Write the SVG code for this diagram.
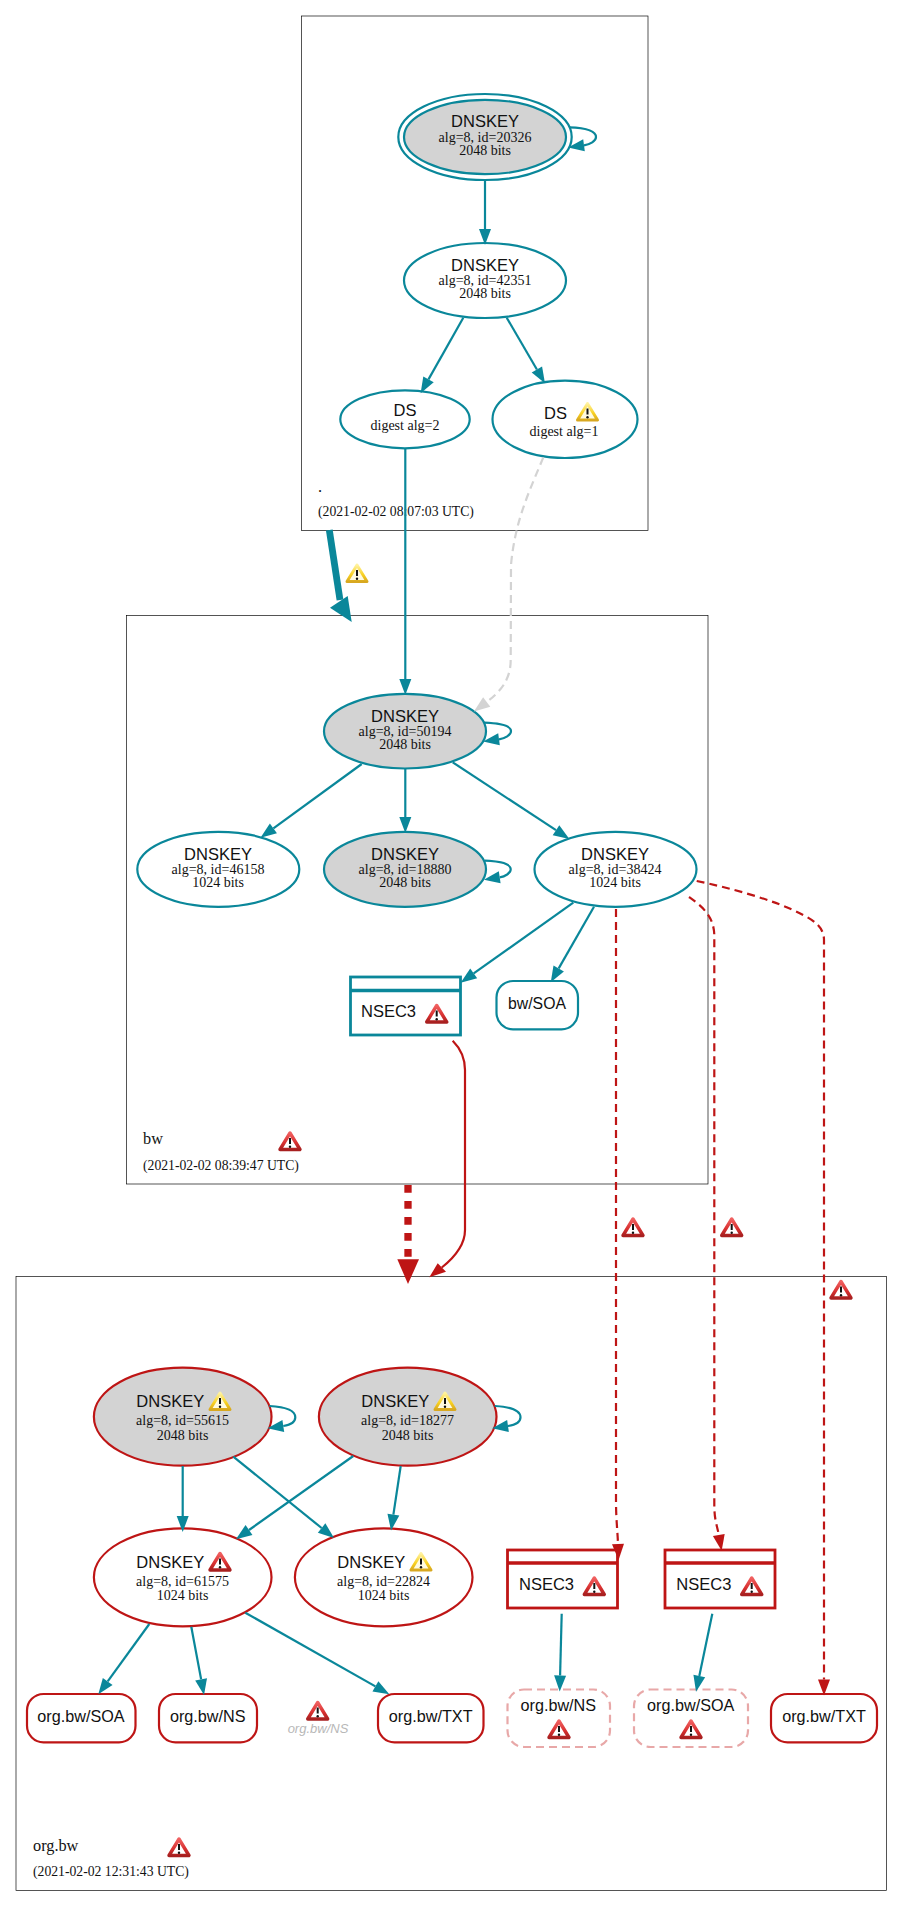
<svg xmlns="http://www.w3.org/2000/svg" width="903" height="1906" viewBox="0 0 903 1906">
<style>
  .zone { fill: #fff; stroke: #000; stroke-width: .67; }
  .ok { stroke: #0a879a; stroke-width: 2.2; fill: #fff; }
  .bad { stroke: #be1515; stroke-width: 2.2; fill: #fff; }
  .box { stroke-width: 2.8; }
  .sep { stroke-width: 3.6; fill: #fff; }
  .ghost { stroke: #e8a8a8; stroke-width: 2.2; stroke-dasharray: 8 5; fill: #fff; }
  .edge { fill: none; stroke: #0a879a; stroke-width: 2.2; marker-end: url(#tip-ok); }
  .edge.red { stroke: #be1515; marker-end: url(#tip-bad); }
  .dash { stroke-dasharray: 8 5; }
  .faint { stroke: #d3d3d3; marker-end: url(#tip-faint); }
  text { fill: #111; }
  .h { font: 16.5px "Liberation Sans", Arial, sans-serif; }
  .s { font: 14px "Liberation Serif", "Times New Roman", serif; }
  .d { font: 13.7px "Liberation Serif", "Times New Roman", serif; }
  .z { font: 16.3px "Liberation Serif", "Times New Roman", serif; }
  .m { text-anchor: middle; }
  .absent { font: italic 13px "Liberation Sans", Arial, sans-serif; fill: #b8b8b8; text-anchor: middle; }
</style>
<defs>
  <marker id="tip-ok" markerUnits="userSpaceOnUse" markerWidth="19" markerHeight="14" refX="1" refY="7" orient="auto"><polygon points="1,1 17,7 1,13" fill="#0a879a"/></marker>
  <marker id="tip-bad" markerUnits="userSpaceOnUse" markerWidth="19" markerHeight="14" refX="1" refY="7" orient="auto"><polygon points="1,1 17,7 1,13" fill="#be1515"/></marker>
  <marker id="tip-faint" markerUnits="userSpaceOnUse" markerWidth="19" markerHeight="14" refX="1" refY="7" orient="auto"><polygon points="1,1 17,7 1,13" fill="#d3d3d3"/></marker>
  <linearGradient id="edge-y" x1="0" y1="0" x2="0" y2="1"><stop offset="0" stop-color="#fff2a0"/><stop offset=".6" stop-color="#f8d020"/><stop offset="1" stop-color="#d8a820"/></linearGradient>
  <linearGradient id="edge-r" x1="0" y1="0" x2="0" y2="1"><stop offset="0" stop-color="#f06060"/><stop offset=".6" stop-color="#d83030"/><stop offset="1" stop-color="#a82020"/></linearGradient>
  <symbol id="warn-y" viewBox="0 0 24 21" overflow="visible">
    <polygon points="12,2.5 22,19 2,19" fill="#fffbe0" stroke="url(#edge-y)" stroke-width="3" stroke-linejoin="round"/>
    <line x1="12" y1="7.5" x2="12" y2="13.5" stroke="#111" stroke-width="2"/><circle cx="12" cy="16.2" r="1.2" fill="#111"/>
  </symbol>
  <symbol id="warn-r" viewBox="0 0 24 21" overflow="visible">
    <polygon points="12,2.5 22,19 2,19" fill="#fff" stroke="url(#edge-r)" stroke-width="3.4" stroke-linejoin="round"/>
    <line x1="12" y1="7.5" x2="12" y2="13.5" stroke="#111" stroke-width="2"/><circle cx="12" cy="16.2" r="1.2" fill="#111"/>
  </symbol>
</defs>
<rect width="903" height="1906" fill="#fff"/>

<!-- zones -->
<g id="zone-root">
  <rect class="zone" x="301.5" y="16" width="346.5" height="514.5"/>
  <text class="z" x="318" y="491.5">.</text>
  <text class="d" x="318" y="516">(2021-02-02 08:07:03 UTC)</text>
</g>
<g id="zone-bw">
  <rect class="zone" x="126.5" y="615.5" width="581.5" height="568.5"/>
  <text class="z" x="143" y="1144">bw</text>
  <text class="d" x="143" y="1170">(2021-02-02 08:39:47 UTC)</text>
  <use href="#warn-r" x="278" y="1130.5" width="24" height="21"/>
</g>
<g id="zone-org-bw">
  <rect class="zone" x="16" y="1276.5" width="870.5" height="614"/>
  <text class="z" x="33" y="1850.5">org.bw</text>
  <text class="d" x="33" y="1876">(2021-02-02 12:31:43 UTC)</text>
  <use href="#warn-r" x="167" y="1836.5" width="24" height="21"/>
</g>

<!-- root zone nodes -->
<g id="key-20326">
  <ellipse class="ok" cx="485" cy="137" rx="86.7" ry="43"/>
  <ellipse class="ok" cx="485" cy="137" rx="81" ry="37.2" style="fill:#d3d3d3"/>
  <text class="h m" x="485" y="127">DNSKEY</text>
  <text class="s m" x="485" y="141.5">alg=8, id=20326</text>
  <text class="s m" x="485" y="155">2048 bits</text>
</g>
<g id="key-42351">
  <ellipse class="ok" cx="485" cy="280.5" rx="81" ry="37.5"/>
  <text class="h m" x="485" y="271">DNSKEY</text>
  <text class="s m" x="485" y="285">alg=8, id=42351</text>
  <text class="s m" x="485" y="298">2048 bits</text>
</g>
<g id="ds-2">
  <ellipse class="ok" cx="405" cy="419.3" rx="64.7" ry="29"/>
  <text class="h m" x="405" y="416">DS</text>
  <text class="s m" x="405" y="429.5">digest alg=2</text>
</g>
<g id="ds-1">
  <ellipse class="ok" cx="565" cy="419.3" rx="72.5" ry="38.7"/>
  <text class="h" x="544" y="418.5">DS</text>
  <use href="#warn-y" x="575.5" y="401" width="24" height="21"/>
  <text class="s m" x="564" y="436">digest alg=1</text>
</g>

<!-- bw zone nodes -->
<g id="key-50194">
  <ellipse class="ok" cx="405" cy="731.2" rx="81" ry="37.3" style="fill:#d3d3d3"/>
  <text class="h m" x="405" y="722">DNSKEY</text>
  <text class="s m" x="405" y="735.5">alg=8, id=50194</text>
  <text class="s m" x="405" y="749">2048 bits</text>
</g>
<g id="key-46158">
  <ellipse class="ok" cx="218.3" cy="869.3" rx="81" ry="37.5"/>
  <text class="h m" x="218" y="860">DNSKEY</text>
  <text class="s m" x="218" y="874">alg=8, id=46158</text>
  <text class="s m" x="218" y="887">1024 bits</text>
</g>
<g id="key-18880">
  <ellipse class="ok" cx="405" cy="869.3" rx="81" ry="37.5" style="fill:#d3d3d3"/>
  <text class="h m" x="405" y="860">DNSKEY</text>
  <text class="s m" x="405" y="874">alg=8, id=18880</text>
  <text class="s m" x="405" y="887">2048 bits</text>
</g>
<g id="key-38424">
  <ellipse class="ok" cx="615.5" cy="869.3" rx="81" ry="37.5"/>
  <text class="h m" x="615" y="860">DNSKEY</text>
  <text class="s m" x="615" y="874">alg=8, id=38424</text>
  <text class="s m" x="615" y="887">1024 bits</text>
</g>
<g id="nsec3-bw">
  <rect class="ok box" x="350.5" y="977" width="110" height="58"/>
  <line class="ok sep" x1="350" y1="990.5" x2="461" y2="990.5"/>
  <text class="h" x="361" y="1016.5">NSEC3</text>
  <use href="#warn-r" x="424.7" y="1003" width="24" height="21"/>
</g>
<g id="bw-soa">
  <rect class="ok" x="496.5" y="981" width="81.5" height="48.3" rx="16.5"/>
  <text class="h m" x="537" y="1009" style="font-size:15.8px">bw/SOA</text>
</g>

<!-- org.bw zone nodes -->
<g id="key-55615">
  <ellipse class="bad" cx="182.7" cy="1416.7" rx="88.8" ry="49" style="fill:#d3d3d3"/>
  <text class="h" x="136.3" y="1407.3">DNSKEY</text>
  <use href="#warn-y" x="208" y="1390.5" width="24" height="21"/>
  <text class="s m" x="182.5" y="1425">alg=8, id=55615</text>
  <text class="s m" x="182.5" y="1440">2048 bits</text>
</g>
<g id="key-18277">
  <ellipse class="bad" cx="407.7" cy="1416.7" rx="88.8" ry="49" style="fill:#d3d3d3"/>
  <text class="h" x="361.3" y="1407.3">DNSKEY</text>
  <use href="#warn-y" x="433" y="1390.5" width="24" height="21"/>
  <text class="s m" x="407.5" y="1425">alg=8, id=18277</text>
  <text class="s m" x="407.5" y="1440">2048 bits</text>
</g>
<g id="key-61575">
  <ellipse class="bad" cx="182.7" cy="1577.3" rx="88.8" ry="49"/>
  <text class="h" x="136.3" y="1568.3">DNSKEY</text>
  <use href="#warn-r" x="208" y="1551" width="24" height="21"/>
  <text class="s m" x="182.5" y="1586">alg=8, id=61575</text>
  <text class="s m" x="182.5" y="1600">1024 bits</text>
</g>
<g id="key-22824">
  <ellipse class="bad" cx="383.7" cy="1577.3" rx="88.8" ry="49"/>
  <text class="h" x="337.3" y="1568.3">DNSKEY</text>
  <use href="#warn-y" x="409" y="1551" width="24" height="21"/>
  <text class="s m" x="383.5" y="1586">alg=8, id=22824</text>
  <text class="s m" x="383.5" y="1600">1024 bits</text>
</g>
<g id="nsec3-ns">
  <rect class="bad box" x="507.5" y="1550" width="110" height="58"/>
  <line class="bad sep" x1="507" y1="1563" x2="618" y2="1563"/>
  <text class="h" x="519" y="1590">NSEC3</text>
  <use href="#warn-r" x="582.3" y="1575.5" width="24" height="21"/>
</g>
<g id="nsec3-soa">
  <rect class="bad box" x="665" y="1550" width="110" height="58"/>
  <line class="bad sep" x1="664.5" y1="1563" x2="775.5" y2="1563"/>
  <text class="h" x="676.3" y="1590">NSEC3</text>
  <use href="#warn-r" x="739.7" y="1575.5" width="24" height="21"/>
</g>
<g id="rr-soa">
  <rect class="bad" x="27" y="1694" width="108.5" height="48.3" rx="16.5"/>
  <text class="h m" x="81" y="1721.7" style="font-size:16.2px">org.bw/SOA</text>
</g>
<g id="rr-ns">
  <rect class="bad" x="159" y="1694" width="98" height="48.3" rx="16.5"/>
  <text class="h m" x="207.7" y="1721.7" style="font-size:16.2px">org.bw/NS</text>
</g>
<g id="rr-ns-absent">
  <use href="#warn-r" x="305.7" y="1700" width="24" height="21"/>
  <text class="absent" x="318" y="1733">org.bw/NS</text>
</g>
<g id="rr-txt">
  <rect class="bad" x="378" y="1694" width="105.5" height="48.3" rx="16.5"/>
  <text class="h m" x="430.7" y="1721.7" style="font-size:16.2px">org.bw/TXT</text>
</g>
<g id="nsec-ns-target">
  <rect class="ghost" x="507.5" y="1689.5" width="102.5" height="57.5" rx="16.5"/>
  <text class="h m" x="558.3" y="1710.7" style="font-size:16.2px">org.bw/NS</text>
  <use href="#warn-r" x="547" y="1718.5" width="24" height="21"/>
</g>
<g id="nsec-soa-target">
  <rect class="ghost" x="634" y="1689.5" width="114" height="57.5" rx="16.5"/>
  <text class="h m" x="690.7" y="1710.7" style="font-size:16.2px">org.bw/SOA</text>
  <use href="#warn-r" x="679" y="1718.5" width="24" height="21"/>
</g>
<g id="txt-target">
  <rect class="bad" x="771" y="1694" width="106" height="48.3" rx="16.5"/>
  <text class="h m" x="824" y="1721.7" style="font-size:16.2px">org.bw/TXT</text>
</g>

<!-- connectors -->
<g id="connectors">
  <path class="edge" d="M569.3,127.3C590,128 596,132 596,137C596,141 590,144.5 584,145.3"/>
  <path class="edge" d="M485,180V229"/>
  <path class="edge" d="M463.3,317.7L428.5,379.4"/>
  <path class="edge" d="M506.7,317.7L536.9,369.5"/>
  <path class="edge" d="M405.3,448.3V679"/>
  <path class="edge dash faint" d="M543.3,457.3C530,490 515,520 511,565L510.7,660C510.7,680 500,692 486.7,702"/>
  <line x1="329.3" y1="530" x2="340" y2="600" stroke="#0a879a" stroke-width="6.8"/>
  <polygon points="330,607.7 347.7,596 351.7,622" fill="#0a879a"/>

  <path class="edge" d="M484,722.7C505,723.5 511,727 511,731C511,735 505,738.5 499,739.3"/>
  <path class="edge" d="M361.7,764L273.4,828.4"/>
  <path class="edge" d="M405.3,768.5V817"/>
  <path class="edge" d="M452.7,762.3L556,830.2"/>
  <path class="edge" d="M484.7,860.7C505,861.5 510.7,865 510.7,869.3C510.7,873.3 505,876.5 499.7,877.3"/>
  <path class="edge" d="M573.3,902.7L473.7,973.4"/>
  <path class="edge" d="M594,906.7L558.7,968.4"/>

  <line x1="408" y1="1185" x2="408" y2="1258" stroke="#be1515" stroke-width="7.3" stroke-dasharray="7.7 8.3"/>
  <polygon points="397.3,1259.3 419,1259.3 408,1284" fill="#be1515"/>
  <path d="M452.7,1040.7C460,1048 465,1058 465,1070L465,1230C465,1245 455,1257 441.8,1267.5" fill="none" stroke="#be1515" stroke-width="2.2"/>
  <polygon points="437.7,1263.3 446,1271.7 429.3,1277.3" fill="#be1515"/>

  <path class="edge red dash" d="M616,909V1500C616,1520 617.5,1530 618,1544"/>
  <path class="edge red dash" d="M689,897C700,905 714.3,915 714.3,936V1505C714.3,1520 717,1525 718.8,1535"/>
  <path class="edge red dash" d="M696.7,881C730,888 775,900 803.3,915C815,921 824,928 824,940V1679.5"/>

  <path class="edge" d="M269.3,1406C288,1407 295.3,1411 295.3,1417.3C295.3,1422 290,1425 283.3,1426"/>
  <path class="edge" d="M494.7,1406C513,1407 520.5,1411 520.5,1417.3C520.5,1422 515,1425 508,1426"/>
  <path class="edge" d="M182.7,1466V1516"/>
  <path class="edge" d="M233.3,1456.7L321.6,1528"/>
  <path class="edge" d="M353.3,1456L249,1530"/>
  <path class="edge" d="M400.7,1466L393.4,1514.7"/>
  <path class="edge" d="M149.3,1624L107.7,1681.4"/>
  <path class="edge" d="M191.3,1626.7L201.1,1679.3"/>
  <path class="edge" d="M245.3,1612.7L375.4,1686.4"/>
  <path class="edge" d="M561.7,1613.7L560.1,1675.5"/>
  <path class="edge" d="M712.3,1613.7L699.3,1676"/>
</g>

<!-- edge warnings -->
<g id="edge-warnings">
  <use href="#warn-y" x="345" y="562.5" width="24" height="21"/>
  <use href="#warn-r" x="621" y="1216.5" width="24" height="21"/>
  <use href="#warn-r" x="719.7" y="1216.5" width="24" height="21"/>
  <use href="#warn-r" x="829" y="1279" width="24" height="21"/>
</g>
</svg>
